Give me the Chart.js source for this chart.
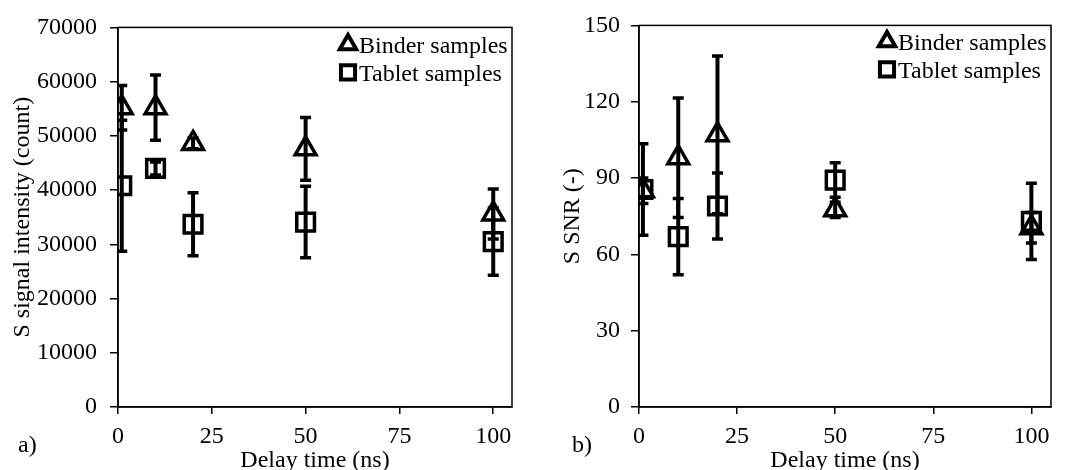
<!DOCTYPE html>
<html>
<head>
<meta charset="utf-8">
<script src="https://cdn.jsdelivr.net/npm/chart.js@4"></script>
<style>
  body { margin: 0; background: #fff; }
  #left { position: absolute; left: 0; top: 0; }
  #right { position: absolute; left: 530px; top: 0; }
</style>
</head>
<body>
<canvas id="left" width="530" height="470"></canvas>
<canvas id="right" width="540" height="470"></canvas>
<script>
// delay times (ns) and axis ticks
const delays = [1, 10, 20, 50, 100];
const xTicks = [0, 25, 50, 75, 100];
const intensityTicks = [0, 10000, 20000, 30000, 40000, 50000, 60000, 70000];
const snrTicks = [0, 30, 60, 90, 120, 150];

// a) S signal intensity (count)
const binderIntensity = [55200, 55200, 48600, 47600, 35600];
const binderIntensityErr = [4100, 6000, 1000, 5800, 4600];
const tabletIntensity = [40800, 44000, 33700, 34100, 30500];
const tabletIntensityErr = [12100, 1200, 5800, 6600, 6200];

// b) S SNR (-)
const binderSnr = [85, 98, 107, 77.5, 70.5];
const binderSnrErr = [5, 23.5, 31, 3, 6];
const tabletSnr = [85.5, 67, 79, 89.2, 73];
const tabletSnrErr = [18, 15, 13, 6.8, 15];

const FONT = { family: '"Liberation Serif", "Times New Roman", serif', size: 24 };

// lo/hi pairs for each delay, broken by a null point
function errorBars(values, errs) {
  const pts = [];
  delays.forEach((x, i) => {
    pts.push({ x: x, y: values[i] - errs[i] });
    pts.push({ x: x, y: values[i] + errs[i] });
    pts.push({ x: x, y: null });
  });
  return pts;
}

const framePlugin = {
  id: 'frame',
  beforeDatasetsDraw(chart) {
    const a = chart.chartArea, ctx = chart.ctx;
    ctx.save();
    ctx.strokeStyle = '#000';
    ctx.lineWidth = 1.5;
    ctx.strokeRect(a.left, a.top, a.right - a.left, a.bottom - a.top);
    ctx.restore();
  },
  afterDraw(chart, args, opts) {
    const a = chart.chartArea, ctx = chart.ctx;
    ctx.save();
    ctx.font = FONT.size + 'px ' + FONT.family;
    ctx.fillStyle = '#000';
    ctx.textBaseline = 'alphabetic';
    ctx.textAlign = 'left';
    // legend in top right corner
    const textX = a.right - 153;
    [0, 1].forEach((di, row) => {
      const ds = chart.data.datasets[di];
      const base = a.top + opts.legendTop + row * 28;
      ctx.fillText(ds.label, textX, base);
      ctx.strokeStyle = '#000';
      ctx.fillStyle = 'rgba(0,0,0,0)';
      ctx.lineWidth = 4;
      Chart.helpers.drawPoint(ctx, {
        pointStyle: ds.pointStyle, radius: ds.pointStyle === 'rect' ? 10 : 9.5,
        rotation: 0, borderWidth: 4
      }, textX - 11, base - 9);
      ctx.fillStyle = '#000';
    });
    ctx.fillText(opts.panel, opts.panelX, 452);
    ctx.restore();
  }
};

function makeChart(id, cfg) {
  const scatterSet = (label, style, radius, values) => ({
    label: label,
    data: delays.map((x, i) => ({ x: x, y: values[i] })),
    pointStyle: style,
    pointRadius: radius,
    pointBorderWidth: 3.5,
    pointBorderColor: '#000',
    pointBackgroundColor: 'rgba(0,0,0,0)',
    showLine: false,
    order: 0
  });
  const errSet = (data) => ({
    label: 'err',
    data: data,
    showLine: true,
    spanGaps: false,
    borderColor: '#000',
    borderWidth: 4,
    pointStyle: 'line',
    pointRadius: 5.5,
    pointBorderWidth: 3.5,
    pointBorderColor: '#000',
    order: 1
  });

  return new Chart(document.getElementById(id), {
    type: 'scatter',
    data: {
      datasets: [
        scatterSet('Binder samples', 'triangle', 12, cfg.binder),
        scatterSet('Tablet samples', 'rect', 12.5, cfg.tablet),
        errSet(errorBars(cfg.binder, cfg.binderErr)),
        errSet(errorBars(cfg.tablet, cfg.tabletErr))
      ]
    },
    options: {
      responsive: false,
      animation: false,
      events: [],
      layout: { padding: { top: cfg.top, right: cfg.right, left: 0, bottom: 0 } },
      plugins: {
        legend: { display: false },
        tooltip: { enabled: false },
        frame: { panel: cfg.panel, panelX: cfg.panelX, legendTop: cfg.legendTop }
      },
      scales: {
        x: {
          type: 'linear', min: 0, max: 105,
          afterBuildTicks: s => { s.ticks = xTicks.map(v => ({ value: v })); },
          afterFit: s => { s.height = 63; },
          ticks: { font: FONT, color: '#000', padding: 8, maxRotation: 0, callback: v => String(v) },
          grid: { display: true, drawOnChartArea: false, drawTicks: true, tickLength: 7, color: '#000', lineWidth: 1.5 },
          border: { display: true, color: '#000', width: 1.5 },
          title: { display: true, text: 'Delay time (ns)', font: FONT, color: '#000', padding: { top: 0, bottom: -5 } }
        },
        y: {
          type: 'linear', min: 0, max: cfg.yMax,
          afterBuildTicks: s => { s.ticks = cfg.yTicks.map(v => ({ value: v })); },
          afterFit: s => { s.width = cfg.axisW; },
          ticks: { font: FONT, color: '#000', padding: cfg.tickPad, callback: v => String(v) },
          grid: { display: true, drawOnChartArea: false, drawTicks: true, tickLength: 8, color: '#000', lineWidth: 1.5 },
          border: { display: true, color: '#000', width: 1.5 },
          title: { display: true, text: cfg.yTitle, font: FONT, color: '#000', padding: { top: cfg.titlePad, bottom: 0 } }
        }
      }
    },
    plugins: [framePlugin]
  });
}

makeChart('left', {
  binder: binderIntensity, binderErr: binderIntensityErr,
  tablet: tabletIntensity, tabletErr: tabletIntensityErr,
  yMax: 70000, yTicks: intensityTicks, yTitle: 'S signal intensity (count)',
  top: 21, right: 18, axisW: 118, tickPad: 13, titlePad: 8,
  panel: 'a)', panelX: 18, legendTop: 26
});

makeChart('right', {
  binder: binderSnr, binderErr: binderSnrErr,
  tablet: tabletSnr, tabletErr: tabletSnrErr,
  yMax: 150, yTicks: snrTicks, yTitle: 'S SNR (-)',
  top: 18, right: 19, axisW: 109, tickPad: 11, titlePad: 28,
  panel: 'b)', panelX: 42, legendTop: 25
});
</script>
</body>
</html>
